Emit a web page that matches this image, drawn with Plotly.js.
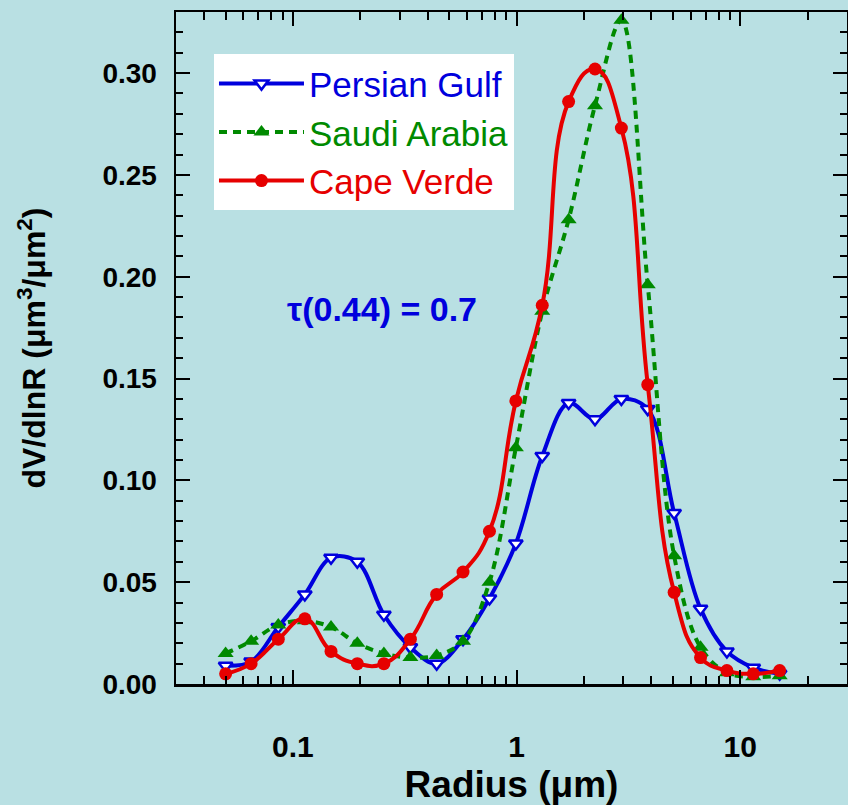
<!DOCTYPE html>
<html>
<head>
<meta charset="utf-8">
<script src="https://cdn.plot.ly/plotly-3.0.1.min.js"></script>
<style>html,body{margin:0;padding:0;background:#b9e0e3;}#chart{width:848px;height:805px;}</style>
</head>
<body>
<div id="chart"></div>
<script>
// AERONET radius bins (µm)
const radius = [0.050, 0.065, 0.086, 0.113, 0.148, 0.194, 0.255, 0.335, 0.439, 0.576, 0.756,
                0.992, 1.302, 1.708, 2.241, 2.940, 3.857, 5.061, 6.641, 8.713, 11.432, 15.000];
const persianGulf = [0.009, 0.011, 0.028, 0.044, 0.062, 0.060, 0.034, 0.018, 0.010, 0.022, 0.042,
                     0.069, 0.112, 0.138, 0.130, 0.140, 0.135, 0.084, 0.037, 0.016, 0.008, 0.005];
const saudiArabia = [0.015, 0.021, 0.029, 0.031, 0.028, 0.020, 0.015, 0.013, 0.014, 0.021, 0.050,
                     0.116, 0.183, 0.228, 0.284, 0.326, 0.196, 0.063, 0.018, 0.0055, 0.0035, 0.004];
const capeVerde   = [0.005, 0.010, 0.022, 0.032, 0.016, 0.010, 0.010, 0.022, 0.044, 0.055, 0.075,
                     0.139, 0.186, 0.286, 0.302, 0.273, 0.147, 0.045, 0.013, 0.0066, 0.005, 0.0066];
const seriesNames = ['Persian Gulf', 'Saudi Arabia', 'Cape Verde'];
const xTitle = 'Radius (\u03bcm)';
const yTitle = 'dV/dlnR (\u03bcm<sup>3</sup>/\u03bcm<sup>2</sup>)';
const annotText = '\u03c4(0.44) = 0.7';

const BLUE = '#0000dd', GREEN = '#008a00', RED = '#e60000';
const BG = '#b9e0e3';
const FONT = 'Arial, "Liberation Sans", sans-serif';

const traces = [
  {x: radius, y: persianGulf, name: '<span style="color:' + BLUE + '">' + seriesNames[0] + '</span>',
   type: 'scatter', mode: 'lines+markers',
   line: {color: BLUE, width: 4, shape: 'spline', smoothing: 1},
   marker: {symbol: 'triangle-down', size: 12, color: 'white', line: {color: BLUE, width: 2.5}}},
  {x: radius, y: saudiArabia, name: '<span style="color:' + GREEN + '">' + seriesNames[1] + '</span>',
   type: 'scatter', mode: 'lines+markers',
   line: {color: GREEN, width: 4, shape: 'spline', smoothing: 1, dash: '8px,6px'},
   marker: {symbol: 'triangle-up', size: 14, color: GREEN}},
  {x: radius, y: capeVerde, name: '<span style="color:' + RED + '">' + seriesNames[2] + '</span>',
   type: 'scatter', mode: 'lines+markers',
   line: {color: RED, width: 4, shape: 'spline', smoothing: 1.3},
   marker: {symbol: 'circle', size: 13, color: RED}}
];

const layout = {
  width: 848, height: 805,
  margin: {l: 176, r: 1, t: 12, b: 121, pad: 0},
  paper_bgcolor: BG, plot_bgcolor: BG,
  font: {family: FONT, color: 'black'},
  showlegend: true,
  legend: {x: 0.0566, y: 0.937, xanchor: 'left', yanchor: 'top', bgcolor: 'white',
           borderwidth: 0, font: {size: 35, family: FONT}, itemwidth: 85, tracegroupgap: 0},
  xaxis: {
    type: 'log', range: [Math.log10(0.03), Math.log10(30)], dtick: 1,
    showline: true, linecolor: 'black', linewidth: 2.5, mirror: 'allticks',
    ticks: 'inside', ticklen: 14, tickwidth: 2, tickcolor: 'black',
    minor: {ticks: 'inside', ticklen: 8, tickwidth: 2, tickcolor: 'black', dtick: 'D1', showgrid: false},
    showgrid: false, zeroline: false,
    tickfont: {size: 30, weight: 'bold', family: FONT},
    ticklabelstandoff: 34,
    title: {text: xTitle, font: {size: 37, weight: 'bold', family: FONT}, standoff: 16}
  },
  yaxis: {
    range: [0, 0.33], dtick: 0.05, tickformat: '.2f',
    showline: true, linecolor: 'black', linewidth: 2.5, mirror: 'allticks',
    ticks: 'inside', ticklen: 14, tickwidth: 2, tickcolor: 'black',
    minor: {ticks: 'inside', ticklen: 7, tickwidth: 2, tickcolor: 'black', dtick: 0.01, showgrid: false},
    showgrid: false, zeroline: false,
    tickfont: {size: 28, weight: 'bold', family: FONT},
    ticklabelstandoff: 11,
    title: {text: yTitle, font: {size: 32, weight: 'bold', family: FONT}, standoff: 47}
  },
  annotations: [{
    xref: 'paper', yref: 'paper', x: 0.307, y: 0.558, xanchor: 'center', yanchor: 'middle',
    text: annotText, showarrow: false,
    font: {size: 34, weight: 'bold', color: BLUE, family: FONT}
  }]
};

Plotly.newPlot('chart', traces, layout, {displayModeBar: false, staticPlot: true});
</script>
</body>
</html>
